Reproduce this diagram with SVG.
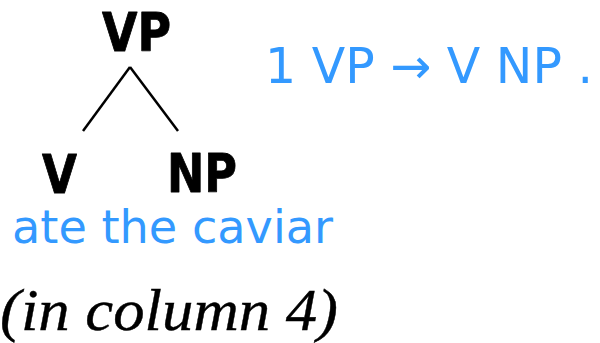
<svg xmlns="http://www.w3.org/2000/svg" width="600" height="343" viewBox="0 0 600 343">
<style>
.cat{font-family:"DejaVu Sans","Verdana",sans-serif;font-weight:bold;fill:#000;stroke:#000;stroke-width:0.8;stroke-linejoin:round}
.blue{font-family:"DejaVu Sans","Verdana",sans-serif;fill:#3399ff}
.note{font-family:"Liberation Serif","Times New Roman",serif;font-style:italic;fill:#000;stroke:#000;stroke-width:0.4}
.edge{stroke:#000;stroke-width:2.5;fill:none}
</style>
<rect width="600" height="343" fill="#fff"/>
<g id="connectors">
<line class="edge" x1="130" y1="67" x2="83" y2="131"/>
<line class="edge" x1="130" y1="67" x2="178" y2="131"/>
</g>
<g id="node-VP"><text class="cat" x="102" y="51" font-size="53" textLength="69" lengthAdjust="spacingAndGlyphs">VP</text></g>
<g id="node-V"><text class="cat" x="42" y="193" font-size="53" textLength="35" lengthAdjust="spacingAndGlyphs">V</text></g>
<g id="node-NP"><text class="cat" x="167" y="192" font-size="53" textLength="70" lengthAdjust="spacingAndGlyphs">NP</text></g>
<g id="words"><text class="blue" x="12" y="243" font-size="47" textLength="321" lengthAdjust="spacingAndGlyphs">ate the caviar</text></g>
<g id="rule"><text class="blue" x="265" y="83" font-size="49" textLength="328" lengthAdjust="spacingAndGlyphs">1 VP → V NP .</text></g>
<g id="note"><text class="note" x="0" y="330" font-size="60" textLength="338" lengthAdjust="spacingAndGlyphs">(in column 4)</text></g>
</svg>
